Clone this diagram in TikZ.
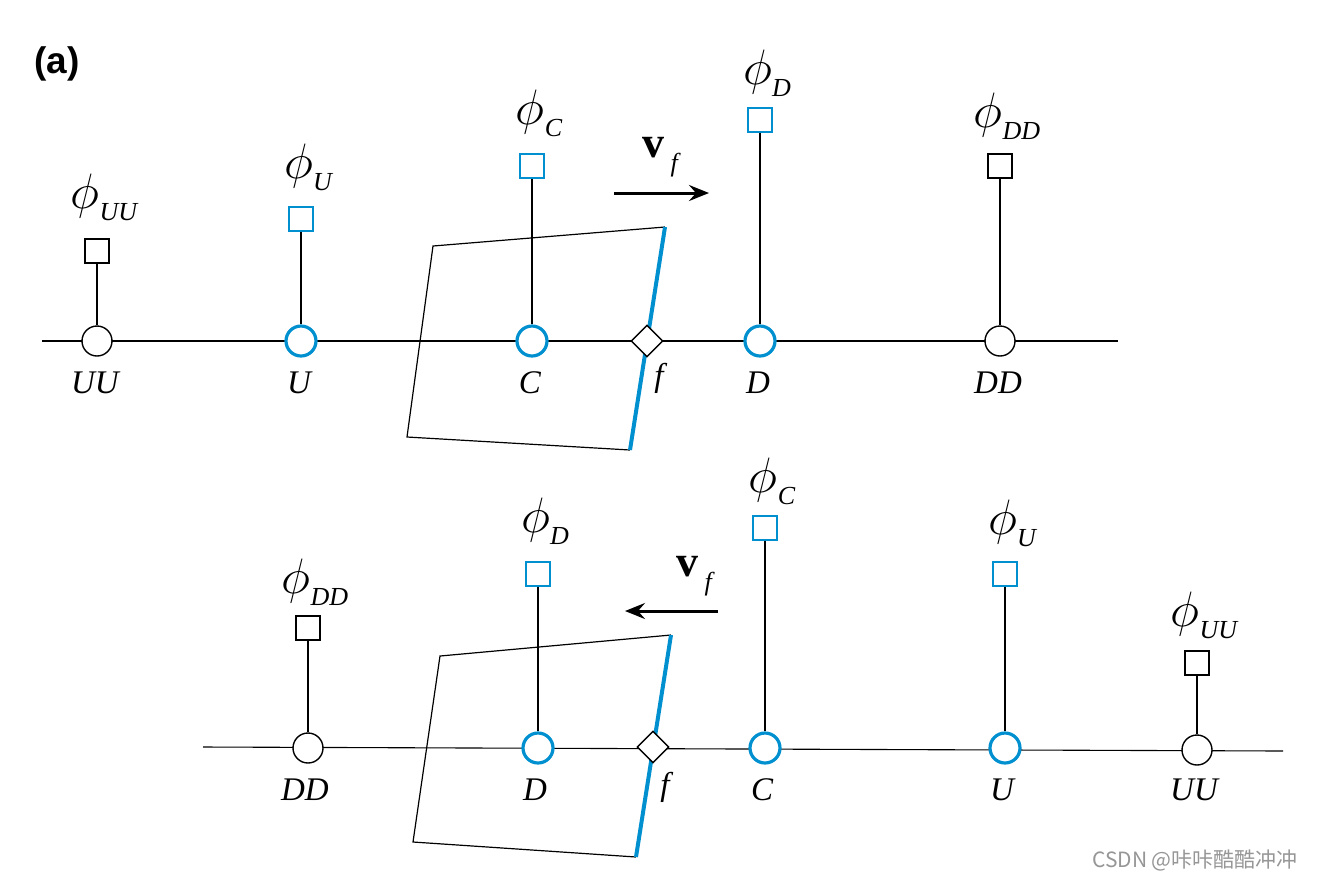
\documentclass[tikz,border=0pt]{standalone}
\usepackage{fontspec}
\setmainfont{Liberation Serif}
\newfontfamily\headfont{Liberation Sans}
\newfontfamily\cjkfont{Noto Sans CJK SC}
\usetikzlibrary{shapes.geometric,arrows.meta,positioning}
\definecolor{cellblue}{RGB}{0,144,208}
\definecolor{markgray}{RGB}{150,150,150}

% value symbol with subscript
\newcommand{\phisub}[1]{{\fontsize{24}{24}\selectfont$\phi$}\raisebox{-6pt}{\fontsize{13}{13}\selectfont\itshape #1}}
\newcommand{\velsub}{{\fontsize{22}{22}\selectfont\bfseries v}\raisebox{-7pt}{\fontsize{13}{13}\selectfont\itshape ~f}}

\tikzset{
  gridpt/.style={circle,draw,fill=white,minimum size=15pt,inner sep=0pt,line width=0.7pt},
  upwind/.style={draw=cellblue,line width=1.6pt},
  plain/.style={draw=black},
  valbox/.style={rectangle,draw,fill=white,minimum size=12pt,inner sep=0pt,line width=0.6pt},
  bluebox/.style={draw=cellblue},
  plainbox/.style={draw=black},
  facept/.style={diamond,draw,fill=white,minimum size=16pt,inner sep=0pt,line width=0.7pt},
  ptlbl/.style={font=\fontsize{16.5}{18}\selectfont\itshape,inner sep=0pt},
  philbl/.style={inner sep=0pt},
  stem/.style={line width=0.55pt},
  facelin/.style={cellblue,line width=2pt},
  cellline/.style={black,line width=0.6pt},
  flowarrow/.style={line width=1.5pt,-{Stealth[length=10pt,width=8pt,inset=3.5pt]}}
}

\begin{document}
\begin{tikzpicture}[x=0.5pt,y=-0.5pt]
\useasboundingbox (0,0) rectangle (1318,880);

%panel label
\node[font=\headfont\bfseries\fontsize{18.5}{19}\selectfont] (panel) at (57,64) {(a)};

%%%%%%%%%%%%%%% upper row, flow to the right
\coordinate (aL) at (42,341);
\coordinate (aR) at (1118,341);
\draw[line width=0.55pt] (aL) -- (aR);

%cell with the face
\coordinate (q1) at (433,246);
\coordinate (q2) at (665,227);
\coordinate (q3) at (630,450);
\coordinate (q4) at (407,437);
\draw[cellline] (q2) -- (q1) -- (q4) -- (q3);
\draw[facelin] (q2) -- (q3);

%grid points, boxes and labels
\foreach \n/\x/\by/\py/\sty/\bst in {UU/97/251/197/plain/plainbox,U/301/219/167/upwind/bluebox,C/532/166/113/upwind/bluebox,D/760/120/73/upwind/bluebox,DD/1000/166/116/plain/plainbox}
{
  \node[gridpt,\sty] (a\n) at (\x,341) {};
  \node[valbox,\bst] (b\n) at (\x,\by) {};
  \draw[stem] (b\n) -- (a\n);
  \node[philbl] (p\n) at (\x+7,\py) {\phisub{\n}};
  \node[ptlbl] (l\n) at (\x-2,383) {\n};
}

\node[facept] (af) at (647,341) {};
\node[ptlbl] (lf) at (659,378) {f};

%face velocity
\coordinate (v1) at (614,193);
\coordinate (v2) at (709,193);
\draw[flowarrow] (v1) -- (v2);
\node[philbl] (va) at (660,157) {\velsub};

%%%%%%%%%%%%%%% lower row, flow to the left
\coordinate (bL) at (203,747);
\coordinate (bR) at (1283,751);
\draw[line width=0.55pt] (bL) -- (bR);

%cell with the face
\coordinate (r1) at (440,656);
\coordinate (r2) at (671,635);
\coordinate (r3) at (636,857);
\coordinate (r4) at (413,842);
\draw[cellline] (r2) -- (r1) -- (r4) -- (r3);
\draw[facelin] (r2) -- (r3);

\foreach \n/\x/\y/\by/\py/\sty/\bst in {DD/308/748/628/582/plain/plainbox,D/538/748/574/521/upwind/bluebox,C/765/748/528/481/upwind/bluebox,U/1005/748/574/523/upwind/bluebox,UU/1197/750/663/615/plain/plainbox}
{
  \node[gridpt,\sty] (c\n) at (\x,\y) {};
  \node[valbox,\bst] (d\n) at (\x,\by) {};
  \draw[stem] (d\n) -- (c\n);
  \node[philbl] (s\n) at (\x+7,\py) {\phisub{\n}};
  \node[ptlbl] (m\n) at (\x-3,790) {\n};
}

\node[facept] (cf) at (653,747) {};
\node[ptlbl] (mf) at (665,787) {f};

%face velocity
\coordinate (w1) at (718,611);
\coordinate (w2) at (625,611);
\draw[flowarrow] (w1) -- (w2);
\node[philbl] (wa) at (694,576) {\velsub};

%watermark
\node[font=\cjkfont\fontsize{10.5}{11}\selectfont,text=markgray] (mark) at (1195,860) {CSDN @咔咔酷酷冲冲};

\end{tikzpicture}
\end{document}
